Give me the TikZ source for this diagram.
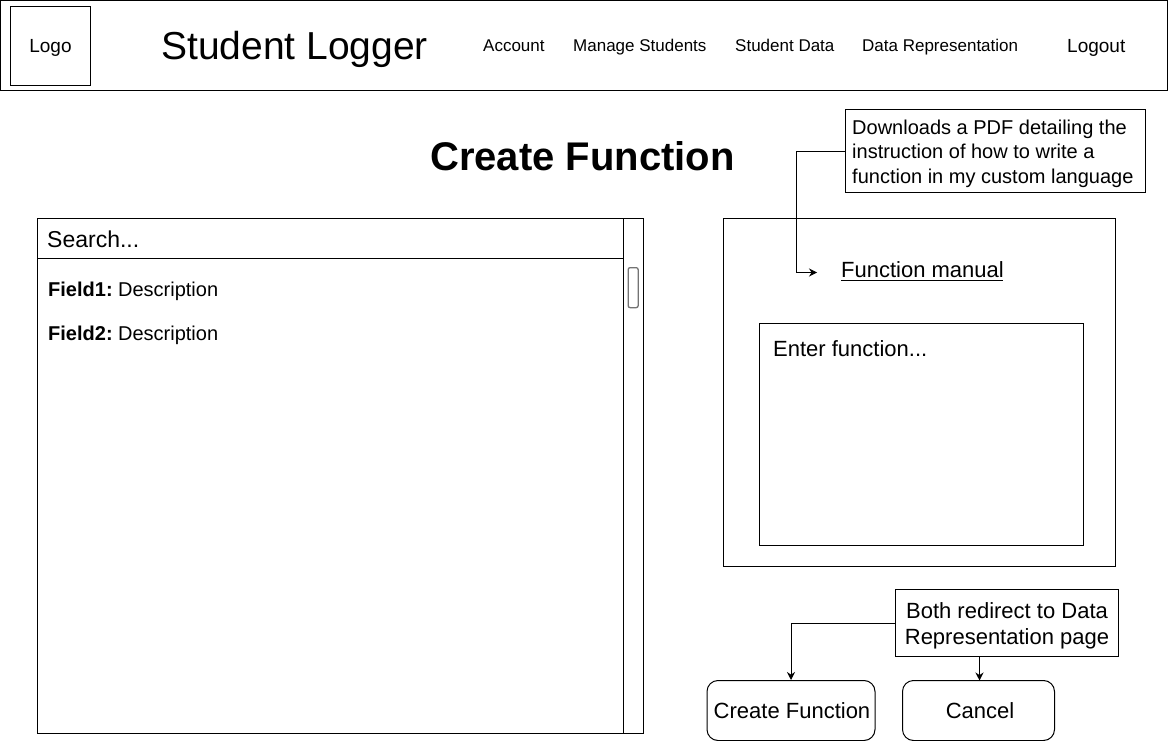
\documentclass[tikz,border=0pt]{standalone}
\usepackage{fontspec}
\setmainfont{Liberation Sans}
\usetikzlibrary{arrows.meta}
\newcommand{\fs}[1]{\fontsize{#1}{#1}\selectfont}
\tikzset{
  x=1pt,y=-1pt,
  box/.style={draw=black,line width=1pt,fill=white,inner sep=0pt,anchor=north west,rectangle,xshift=-1pt,yshift=1pt},
  txt/.style={inner sep=0pt,anchor=base west,text=black},
  ctxt/.style={inner sep=0pt,anchor=base,text=black},
  conn/.style={draw=black,line width=1pt,-{Stealth[length=8pt,width=8pt]}},
  btn/.style={box,rounded corners=11pt},
}
\begin{document}
\begin{tikzpicture}
\useasboundingbox (0,0) rectangle (1168,741);
\fill[white] (0,0) rectangle (1168,741);
% header
\node[box,minimum width=1167pt,minimum height=90pt] (header) at (1,1.5) {};
\node[box,minimum width=80pt,minimum height=79pt] (logo) at (10.5,7) {};
\node[ctxt] (logotxt) at (50.5,52.5) {\fs{19}Logo};
\node[txt] (title) at (161,59.5) {\fs{39}Student Logger};
\node[txt] (account) at (483,51.5) {\fs{17}Account};
\node[txt] (manage) at (573,51.5) {\fs{17}Manage Students};
\node[txt] (sdata) at (735,51.5) {\fs{17}Student Data};
\node[txt] (drep) at (862,51.5) {\fs{17}Data Representation};
\node[txt] (logout) at (1067,52.5) {\fs{19}Logout};
\node[txt] (heading) at (430,171) {\fs{40}\bfseries Create Function};
% left panel
\node[box,minimum width=606pt,minimum height=515pt] (panel) at (37.5,218.5) {};
\node[box,minimum width=586pt,minimum height=40pt] (search) at (37.5,218.5) {};
\draw[line width=1pt] (623.5,218) -- (623.5,733);
\node[box,draw=black!55,line width=1.3pt,rounded corners=2pt,minimum width=10pt,minimum height=40pt] (thumb) at (628.5,268) {};
\node[txt] (searchtxt) at (47,247) {\fs{23}Search...};
\node[txt] (f1) at (48,296) {\fs{20}\textbf{Field1:}\hspace{5.5pt}Description};
\node[txt] (f2) at (48,340) {\fs{20}\textbf{Field2:}\hspace{5.5pt}Description};
% right panel
\node[box,minimum width=392pt,minimum height=348pt] (fpanel) at (723.5,218.5) {};
\node[box,minimum width=324pt,minimum height=222pt] (fentry) at (759.5,323.5) {};
\node[txt] (entertxt) at (773,356) {\fs{22}Enter function...};
\node[txt] (manual) at (841,277) {\fs{22}Function manual};
\draw[line width=1.6pt] (841,280.5) -- (1003,280.5);
\coordinate (manualtip) at (817,272.5);
% note 1
\node[box,minimum width=300pt,minimum height=83pt] (note1) at (845.5,110) {};
\node[txt] (n1a) at (852,135) {\fs{20}Downloads a PDF detailing the};
\node[txt] (n1b) at (852,159) {\fs{20}instruction of how to write a};
\node[txt] (n1c) at (852,183) {\fs{20}function in my custom language};
\draw[conn] (note1.west |- 0,151.5) -| (796.5,272.5) -- (manualtip);
% note 2
\node[box,minimum width=223pt,minimum height=67pt] (note2) at (895.5,589.5) {};
\node[ctxt] (n2a) at (1007,618) {\fs{22}Both redirect to Data};
\node[ctxt] (n2b) at (1007,644) {\fs{22}Representation page};
% buttons
\node[btn,minimum width=168pt,minimum height=60pt] (create) at (707.5,681) {};
\node[btn,minimum width=152pt,minimum height=60pt] (cancel) at (903,681) {};
\node[ctxt] (createtxt) at (792,718) {\fs{22}Create Function};
\node[ctxt] (canceltxt) at (980,718) {\fs{22}Cancel};
\coordinate (canceltop) at (979.5,680.5);
\draw[conn] (note2.west |- 0,623.5) -| (create.north);
\draw[conn] (canceltop |- note2.south) -- (canceltop);
\end{tikzpicture}
\end{document}
